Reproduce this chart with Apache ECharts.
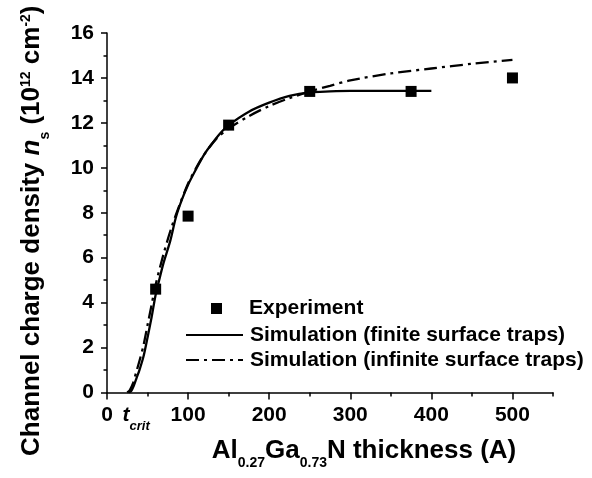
<!DOCTYPE html>
<html>
<head>
<meta charset="utf-8">
<script src="https://cdn.jsdelivr.net/npm/echarts@6/dist/echarts.min.js"></script>
<style>html,body{margin:0;padding:0;background:#fff}#c{width:592px;height:478px}</style>
</head>
<body>
<div id="c"></div>
<script>
// ---- data ----
var expX = [60, 100, 150, 250, 375, 500];
var expY = [4.6, 7.85, 11.9, 13.4, 13.4, 14.0];

var finiteX = [27, 30, 33, 36, 40, 45, 50, 55, 60, 65, 70, 78, 85, 92, 100, 110, 120, 130, 140, 150, 175, 200, 225, 250, 275, 300, 350, 400];
var finiteY = [0, 0.08, 0.3, 0.6, 1.0, 1.6, 2.45, 3.35, 4.35, 5.1, 5.8, 6.75, 7.8, 8.55, 9.25, 9.95, 10.6, 11.1, 11.55, 11.9, 12.5, 12.9, 13.2, 13.36, 13.4, 13.42, 13.42, 13.42];

var infiniteX = [25, 28, 32, 36, 40, 45, 50, 55, 60, 70, 80, 90, 100, 110, 120, 135, 150, 175, 200, 225, 250, 275, 300, 350, 400, 450, 500];
var infiniteY = [0, 0.1, 0.4, 0.9, 1.4, 2.1, 3.0, 3.9, 4.8, 6.2, 7.4, 8.4, 9.3, 10.0, 10.6, 11.3, 11.75, 12.3, 12.75, 13.1, 13.4, 13.65, 13.89, 14.2, 14.42, 14.63, 14.8];

var xMajorTicks = [0, 100, 200, 300, 400, 500];
var xMinorTicks = [50, 150, 250, 350, 450, 550];
var tCritLabelPos = 36;
var xLabelValues = [0, tCritLabelPos, 100, 200, 300, 400, 500];

var seriesNames = ['Experiment', 'Simulation (finite surface traps)', 'Simulation (infinite surface traps)'];

function zip(a, b) { return a.map(function (v, i) { return [v, b[i]]; }); }

var FONT = '"Liberation Sans", Arial, sans-serif';

var chart = echarts.init(document.getElementById('c'), null, { renderer: 'canvas' });

var titleRich = {
  m: { fontSize: 26, fontWeight: 'bold', fontFamily: FONT, color: '#000', lineHeight: 26, verticalAlign: 'top' },
  i: { fontSize: 26, fontWeight: 'bold', fontStyle: 'italic', fontFamily: FONT, color: '#000', lineHeight: 26, verticalAlign: 'top' },
  sub: { fontSize: 14, fontWeight: 'bold', fontFamily: FONT, color: '#000', lineHeight: 14, verticalAlign: 'top', padding: [19, 0, 0, 0] },
  sup: { fontSize: 14, fontWeight: 'bold', fontFamily: FONT, color: '#000', lineHeight: 14, verticalAlign: 'top', padding: [0, 0, 0, 0] }
};

var legendText = { fontSize: 21, fontWeight: 'bold', fontFamily: FONT, color: '#000' };

var option = {
  animation: false,
  backgroundColor: '#fff',
  grid: { left: 107, top: 33, width: 446, height: 359.5, containLabel: false },
  legend: [
    {
      data: [seriesNames[0]], left: 206, top: 293, orient: 'vertical',
      icon: 'rect', itemWidth: 11, itemHeight: 11, selectedMode: false,
      itemStyle: { opacity: 1, color: '#000' },
      textStyle: Object.assign({ padding: [0, 0, 0, 22] }, legendText)
    },
    {
      data: [seriesNames[1]], left: 180, top: 319.5, orient: 'vertical',
      itemWidth: 57, itemHeight: 14, selectedMode: false,
      itemStyle: { opacity: 0 },
      textStyle: Object.assign({ padding: [0, 0, 0, 2] }, legendText)
    },
    {
      data: [seriesNames[2]], left: 180, top: 344.5, orient: 'vertical',
      itemWidth: 57, itemHeight: 14, selectedMode: false,
      itemStyle: { opacity: 0 },
      textStyle: Object.assign({ padding: [0, 0, 0, 2] }, legendText)
    }
  ],
  xAxis: [
    {
      type: 'value', min: 0, max: 550, interval: 100, position: 'bottom',
      splitLine: { show: false },
      axisLine: { show: true, onZero: false, lineStyle: { color: '#000', width: 1.5 } },
      axisTick: { show: true, inside: false, length: 7, customValues: xMajorTicks, lineStyle: { color: '#000', width: 1.5 } },
      axisLabel: {
        show: true, margin: 12, customValues: xLabelValues,
        fontSize: 21, fontWeight: 'bold', fontFamily: FONT, color: '#000',
        formatter: function (v) { return v === tCritLabelPos ? '{t|t}{c|crit}' : '{n|' + v + '}'; },
        rich: {
          n: { fontSize: 21, fontWeight: 'bold', fontFamily: FONT, color: '#000', lineHeight: 21, verticalAlign: 'top' },
          t: { fontSize: 21, fontWeight: 'bold', fontStyle: 'italic', fontFamily: FONT, color: '#000', lineHeight: 21, verticalAlign: 'top' },
          c: { fontSize: 13, fontWeight: 'bold', fontStyle: 'italic', fontFamily: FONT, color: '#000', lineHeight: 13, verticalAlign: 'top', padding: [15, 0, 0, 0] }
        }
      },
      name: '{m|Al}{sub|0.27}{m|Ga}{sub|0.73}{m|N thickness (A)}',
      nameLocation: 'middle', nameGap: 45,
      nameTextStyle: { rich: titleRich, padding: [0, 0, 0, 68] }
    },
    {
      type: 'value', min: 0, max: 550, interval: 50, position: 'bottom',
      splitLine: { show: false },
      axisLine: { show: false },
      axisTick: { show: true, inside: false, length: 4, customValues: xMinorTicks, lineStyle: { color: '#000', width: 1.5 } },
      axisLabel: { show: false }
    }
  ],
  yAxis: {
    type: 'value', min: 0, max: 16, interval: 2,
    splitLine: { show: false },
    axisLine: { show: true, onZero: false, lineStyle: { color: '#000', width: 1.5 } },
    axisTick: { show: true, inside: false, length: 6, lineStyle: { color: '#000', width: 1.5 } },
    minorTick: { show: true, splitNumber: 2, length: 3.5, lineStyle: { color: '#000', width: 1.5 } },
    axisLabel: { margin: 13, fontSize: 21, fontWeight: 'bold', fontFamily: FONT, color: '#000' },
    name: '{m|Channel charge density }{i|n}{sub|s}{m| (10}{sup|12}{m| cm}{sup|-2}{m|)}',
    nameLocation: 'middle', nameGap: 62,
    nameTextStyle: { rich: titleRich, padding: [0, 36, 0, 0] }
  },
  series: [
    {
      name: seriesNames[0], type: 'scatter', xAxisIndex: 0,
      symbol: 'rect', symbolSize: 11,
      itemStyle: { color: '#000', opacity: 1 },
      data: zip(expX, expY), z: 5
    },
    {
      name: seriesNames[1], type: 'line', xAxisIndex: 0,
      showSymbol: false, symbol: 'none', smooth: 0.3,
      lineStyle: { color: '#000', width: 2.3, type: 'solid' },
      itemStyle: { color: '#000' },
      data: zip(finiteX, finiteY)
    },
    {
      name: seriesNames[2], type: 'line', xAxisIndex: 0,
      showSymbol: false, symbol: 'none', smooth: 0.3,
      lineStyle: { color: '#000', width: 2.3, type: [13, 5, 3, 5] },
      itemStyle: { color: '#000' },
      data: zip(infiniteX, infiniteY)
    }
  ]
};
chart.setOption(option);
</script>
</body>
</html>
